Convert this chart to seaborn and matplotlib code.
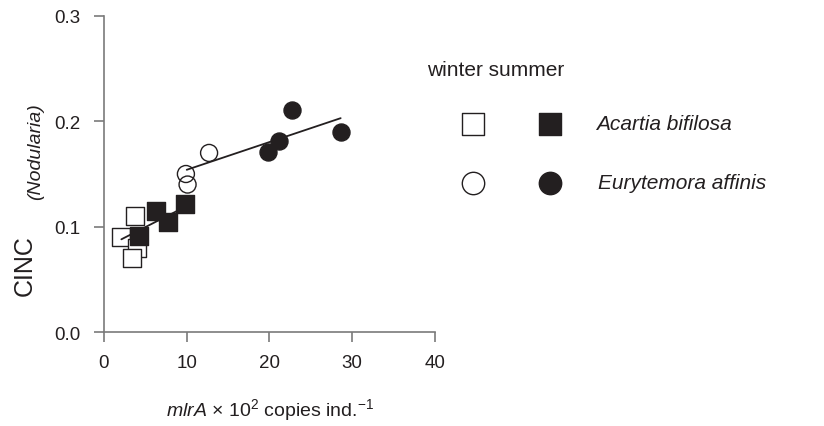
import numpy as np
import pandas as pd
import seaborn as sns
import matplotlib.pyplot as plt

# values
acartia_winter_x = [2.1, 3.8, 4.0, 3.4]
acartia_winter_y = [0.090, 0.110, 0.080, 0.070]
acartia_summer_x = [4.2, 6.3, 7.7, 9.85]
acartia_summer_y = [0.091, 0.115, 0.104, 0.122]
eury_winter_x = [9.9, 10.1, 12.7]
eury_winter_y = [0.150, 0.140, 0.170]
eury_summer_x = [19.8, 21.2, 22.7, 28.7]
eury_summer_y = [0.171, 0.181, 0.211, 0.190]

# fitted lines (end points as drawn)
fit_acartia_x = [2.1, 9.85]
fit_acartia_y = [0.088, 0.119]
fit_eury_x = [10.0, 28.6]
fit_eury_y = [0.154, 0.203]

x_ticks = [0, 10, 20, 30, 40]
y_ticks = [0.0, 0.1, 0.2, 0.3]

ink = '#231f20'
spine = '#7a7a7a'

sns.set_theme(style='ticks')
plt.rcParams['font.family'] = ['Liberation Sans', 'DejaVu Sans']
plt.rcParams['mathtext.fontset'] = 'custom'
plt.rcParams['mathtext.rm'] = 'Liberation Sans'
plt.rcParams['mathtext.it'] = 'Liberation Sans:italic'

df = pd.concat([
    pd.DataFrame({'x': acartia_winter_x, 'y': acartia_winter_y, 'grp': 'Aw'}),
    pd.DataFrame({'x': acartia_summer_x, 'y': acartia_summer_y, 'grp': 'As'}),
    pd.DataFrame({'x': eury_winter_x, 'y': eury_winter_y, 'grp': 'Ew'}),
    pd.DataFrame({'x': eury_summer_x, 'y': eury_summer_y, 'grp': 'Es'}),
])

fig = plt.figure(figsize=(8.24, 4.27), dpi=100)
ax = fig.add_axes([0.1262, 0.2201, 0.4017, 0.7401])

styles = {'Aw': ('s', 'white', 2), 'As': ('s', ink, 4),
          'Ew': ('o', 'none', 2), 'Es': ('o', ink, 4)}
for g, (m, fc, z) in styles.items():
    sub = df[df['grp'] == g]
    sns.scatterplot(data=sub, x='x', y='y', marker=m, s=150, facecolor=fc,
                    edgecolor=ink, linewidth=1.0, zorder=z, ax=ax, legend=False)

sns.lineplot(x=fit_acartia_x, y=fit_acartia_y, color=ink, lw=1.3, zorder=3, ax=ax)
sns.lineplot(x=fit_eury_x, y=fit_eury_y, color=ink, lw=1.3, zorder=3, ax=ax)

ax.set_xlim(0, 40)
ax.set_ylim(0, 0.3)
ax.set_xticks(x_ticks)
ax.set_yticks(y_ticks)
ax.set_yticklabels(['%.1f' % v for v in y_ticks])
ax.tick_params(colors=spine, labelcolor=ink, labelsize=13.5, length=7, width=1.2)
ax.tick_params(axis='x', pad=9)
ax.tick_params(axis='y', pad=10)
for s in ['top', 'right']:
    ax.spines[s].set_visible(False)
for s in ['left', 'bottom']:
    ax.spines[s].set_color(spine)
    ax.spines[s].set_linewidth(1.2)
ax.set_xlabel(r'$\it{mlrA}$ × 10$^{2}$ copies ind.$^{-1}$', fontsize=14,
              color=ink, labelpad=18)
ax.set_ylabel('')

# y label: CINC (Nodularia)
fig.text(0.030, 0.379, 'CINC', rotation=90, fontsize=18, color=ink,
         ha='center', va='center')
fig.text(0.043, 0.646, '(Nodularia)', rotation=90, fontsize=14, color=ink,
         style='italic', ha='center', va='center')

# legend drawn by hand
lg = fig.add_axes([0, 0, 1, 1])
lg.set_xlim(0, 824)
lg.set_ylim(427, 0)
lg.axis('off')
lg.text(427, 70, 'winter summer', fontsize=15, color=ink, va='center')
lg.scatter([473], [125], marker='s', s=260, facecolor='white', edgecolor=ink, linewidth=1.0)
lg.scatter([550], [125], marker='s', s=260, facecolor=ink, edgecolor=ink, linewidth=1.0)
lg.scatter([473], [184], marker='o', s=260, facecolor='white', edgecolor=ink, linewidth=1.0)
lg.scatter([550], [184], marker='o', s=260, facecolor=ink, edgecolor=ink, linewidth=1.0)
lg.text(596, 125, 'Acartia bifilosa', fontsize=15, style='italic', color=ink, va='center')
lg.text(598, 184, 'Eurytemora affinis', fontsize=15, style='italic', color=ink, va='center')

fig.savefig('out.png', dpi=100)
